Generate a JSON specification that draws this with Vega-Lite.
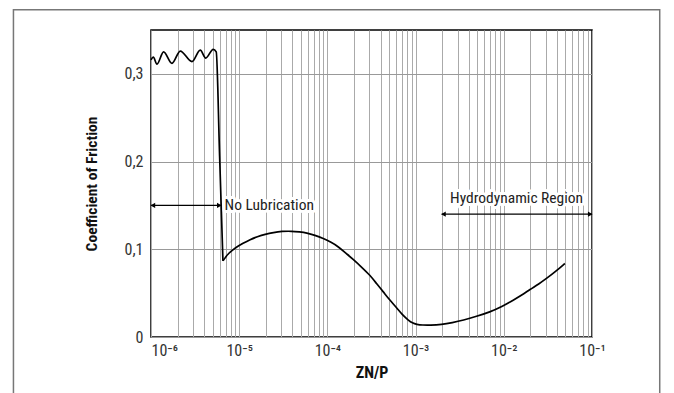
{
  "$schema": "https://vega.github.io/schema/vega-lite/v6.json",
  "width": 441,
  "height": 307,
  "autosize": {"type": "none"},
  "padding": {"left": 151, "top": 30, "right": 82, "bottom": 56},
  "background": "white",
  "config": {
    "view": {"stroke": "black", "strokeWidth": 1.5},
    "font": "Roboto Condensed, DejaVu Sans Condensed, Roboto, sans-serif"
  },
  "datasets": {
    "dry": [
      {"zn_p": 1.0e-6, "mu": 0.316},
      {"zn_p": 1.062e-6, "mu": 0.319},
      {"zn_p": 1.169e-6, "mu": 0.311},
      {"zn_p": 1.389e-6, "mu": 0.325},
      {"zn_p": 1.729e-6, "mu": 0.312},
      {"zn_p": 2.147e-6, "mu": 0.326},
      {"zn_p": 2.913e-6, "mu": 0.314},
      {"zn_p": 3.617e-6, "mu": 0.327},
      {"zn_p": 4.174e-6, "mu": 0.318},
      {"zn_p": 5.077e-6, "mu": 0.328},
      {"zn_p": 5.489e-6, "mu": 0.325},
      {"zn_p": 5.998e-6, "mu": 0.206},
      {"zn_p": 6.54e-6, "mu": 0.0868}
    ],
    "film": [
      {"zn_p": 6.54e-6, "mu": 0.0868},
      {"zn_p": 7.0e-6, "mu": 0.091},
      {"zn_p": 7.56e-6, "mu": 0.0952},
      {"zn_p": 8.4e-6, "mu": 0.0992},
      {"zn_p": 9.42e-6, "mu": 0.1027},
      {"zn_p": 1.1e-5, "mu": 0.1068},
      {"zn_p": 1.332e-5, "mu": 0.1112},
      {"zn_p": 1.6e-5, "mu": 0.1143},
      {"zn_p": 1.97e-5, "mu": 0.1172},
      {"zn_p": 2.45e-5, "mu": 0.1192},
      {"zn_p": 3.045e-5, "mu": 0.1205},
      {"zn_p": 3.95e-5, "mu": 0.1207},
      {"zn_p": 4.8e-5, "mu": 0.1198},
      {"zn_p": 5.84e-5, "mu": 0.1187},
      {"zn_p": 7.2e-5, "mu": 0.116},
      {"zn_p": 9.01e-5, "mu": 0.1123},
      {"zn_p": 1.1e-4, "mu": 0.108},
      {"zn_p": 1.332e-4, "mu": 0.103},
      {"zn_p": 1.6e-4, "mu": 0.096},
      {"zn_p": 1.97e-4, "mu": 0.0884},
      {"zn_p": 2.45e-4, "mu": 0.0795},
      {"zn_p": 3.045e-4, "mu": 0.0704},
      {"zn_p": 3.6e-4, "mu": 0.061},
      {"zn_p": 4.31e-4, "mu": 0.0514},
      {"zn_p": 5.1e-4, "mu": 0.042},
      {"zn_p": 6.11e-4, "mu": 0.0333},
      {"zn_p": 7.1e-4, "mu": 0.025},
      {"zn_p": 8.27e-4, "mu": 0.0192},
      {"zn_p": 9.2e-4, "mu": 0.0158},
      {"zn_p": 1.029e-3, "mu": 0.0143},
      {"zn_p": 1.2e-3, "mu": 0.0136},
      {"zn_p": 1.456e-3, "mu": 0.0135},
      {"zn_p": 1.975e-3, "mu": 0.0142},
      {"zn_p": 2.6e-3, "mu": 0.0163},
      {"zn_p": 3.47e-3, "mu": 0.0191},
      {"zn_p": 4.9e-3, "mu": 0.0235},
      {"zn_p": 6.96e-3, "mu": 0.0285},
      {"zn_p": 9.5e-3, "mu": 0.0345},
      {"zn_p": 1.278e-2, "mu": 0.042},
      {"zn_p": 1.6e-2, "mu": 0.0478},
      {"zn_p": 1.975e-2, "mu": 0.0541},
      {"zn_p": 2.5e-2, "mu": 0.0605},
      {"zn_p": 3.05e-2, "mu": 0.0667},
      {"zn_p": 3.9e-2, "mu": 0.075},
      {"zn_p": 4.92e-2, "mu": 0.0838}
    ],
    "frame": [
      {"left": 2.757e-8, "right": 0.586, "bottom": -0.08, "top": 0.373}
    ],
    "arrows": [
      {"region": "No Lubrication", "from": 1e-6, "to": 6.2e-6, "mu": 0.15},
      {"region": "Hydrodynamic Region", "from": 1.975e-3, "to": 0.1, "mu": 0.14}
    ],
    "heads": [
      {"zn_p": 1.05e-6, "mu": 0.15, "dir": "left"},
      {"zn_p": 5.95e-6, "mu": 0.15, "dir": "right"},
      {"zn_p": 2.07e-3, "mu": 0.14, "dir": "left"},
      {"zn_p": 0.0955, "mu": 0.14, "dir": "right"}
    ],
    "labels": [
      {"text": "No Lubrication", "zn_p": 6.82e-6, "mu": 0.15},
      {"text": "Hydrodynamic Region", "zn_p": 1.396e-2, "mu": 0.158}
    ]
  },
  "layer": [
    {
      "data": {"name": "dry"},
      "mark": {"type": "line", "color": "black", "strokeWidth": 1.7, "interpolate": "monotone"},
      "encoding": {
        "x": {
          "field": "zn_p", "type": "quantitative",
          "scale": {"type": "log", "domain": [1e-6, 0.1], "nice": false},
          "axis": {
            "values": [1e-6, 2e-6, 3e-6, 4e-6, 5e-6, 6e-6, 7e-6, 8e-6, 9e-6,
                       1e-5, 2e-5, 3e-5, 4e-5, 5e-5, 6e-5, 7e-5, 8e-5, 9e-5,
                       1e-4, 2e-4, 3e-4, 4e-4, 5e-4, 6e-4, 7e-4, 8e-4, 9e-4,
                       1e-3, 2e-3, 3e-3, 4e-3, 5e-3, 6e-3, 7e-3, 8e-3, 9e-3,
                       1e-2, 2e-2, 3e-2, 4e-2, 5e-2, 6e-2, 7e-2, 8e-2, 9e-2, 1e-1],
            "labelExpr": "datum.value == 1e-6 ? '10⁻⁶' : datum.value == 1e-5 ? '10⁻⁵' : datum.value == 1e-4 ? '10⁻⁴' : datum.value == 1e-3 ? '10⁻³' : datum.value == 1e-2 ? '10⁻²' : datum.value == 1e-1 ? '10⁻¹' : ''",
            "labelAlign": {"expr": "datum.value == 1e-6 ? 'left' : 'center'"},
            "grid": true, "gridColor": "#aaaaaa", "gridWidth": 1,
            "ticks": false, "domain": false,
            "labelOverlap": false, "labelFlush": false, "labelBound": false,
            "labelFontSize": 16, "labelColor": "#333333", "labelPadding": 5,
            "title": "ZN/P", "titleFontSize": 16, "titleFontWeight": "bold", "titleColor": "#111111", "titlePadding": 6
          }
        },
        "y": {
          "field": "mu", "type": "quantitative",
          "scale": {"domain": [0, 0.35], "nice": false},
          "axis": {
            "values": [0, 0.1, 0.2, 0.3],
            "labelExpr": "datum.value == 0 ? '0' : replace(format(datum.value, '.1f'), '.', ',')",
            "grid": true, "gridColor": "#999999", "gridWidth": 1,
            "ticks": false, "domain": false,
            "labelFontSize": 16, "labelColor": "#333333", "labelPadding": 8,
            "title": "Coefficient of Friction", "titleFontSize": 15.5, "titleFontWeight": "bold", "titleColor": "#111111", "titlePadding": 25
          }
        }
      }
    },
    {
      "data": {"name": "film"},
      "mark": {"type": "line", "color": "black", "strokeWidth": 1.7, "interpolate": "basis"},
      "encoding": {
        "x": {"field": "zn_p", "type": "quantitative"},
        "y": {"field": "mu", "type": "quantitative"}
      }
    },
    {
      "data": {"name": "frame"},
      "mark": {"type": "rect", "fill": null, "fillOpacity": 0, "stroke": "#777777", "strokeWidth": 1.5, "clip": false},
      "encoding": {
        "x": {"field": "left", "type": "quantitative"},
        "x2": {"field": "right"},
        "y": {"field": "bottom", "type": "quantitative"},
        "y2": {"field": "top"}
      }
    },
    {
      "data": {"name": "arrows"},
      "mark": {"type": "rule", "color": "black", "strokeWidth": 1.2},
      "encoding": {
        "x": {"field": "from", "type": "quantitative"},
        "x2": {"field": "to"},
        "y": {"field": "mu", "type": "quantitative"}
      }
    },
    {
      "data": {"name": "heads"},
      "mark": {"type": "point", "filled": true, "color": "black", "size": 28, "opacity": 1},
      "encoding": {
        "x": {"field": "zn_p", "type": "quantitative"},
        "y": {"field": "mu", "type": "quantitative"},
        "shape": {"field": "dir", "type": "nominal", "scale": {"domain": ["left", "right"], "range": ["triangle-left", "triangle-right"]}, "legend": null}
      }
    },
    {
      "data": {"name": "labels"},
      "transform": [{"filter": "datum.text == 'No Lubrication'"}],
      "mark": {"type": "text", "align": "left", "baseline": "middle", "fontSize": 15.5, "color": "#222222", "stroke": "white", "strokeWidth": 6, "strokeJoin": "round"},
      "encoding": {
        "x": {"field": "zn_p", "type": "quantitative"},
        "y": {"field": "mu", "type": "quantitative"},
        "text": {"field": "text"}
      }
    },
    {
      "data": {"name": "labels"},
      "transform": [{"filter": "datum.text == 'No Lubrication'"}],
      "mark": {"type": "text", "align": "left", "baseline": "middle", "fontSize": 15.5, "color": "#222222"},
      "encoding": {
        "x": {"field": "zn_p", "type": "quantitative"},
        "y": {"field": "mu", "type": "quantitative"},
        "text": {"field": "text"}
      }
    },
    {
      "data": {"name": "labels"},
      "transform": [{"filter": "datum.text == 'Hydrodynamic Region'"}],
      "mark": {"type": "text", "align": "center", "baseline": "middle", "fontSize": 15.5, "color": "#222222", "stroke": "white", "strokeWidth": 6, "strokeJoin": "round"},
      "encoding": {
        "x": {"field": "zn_p", "type": "quantitative"},
        "y": {"field": "mu", "type": "quantitative"},
        "text": {"field": "text"}
      }
    },
    {
      "data": {"name": "labels"},
      "transform": [{"filter": "datum.text == 'Hydrodynamic Region'"}],
      "mark": {"type": "text", "align": "center", "baseline": "middle", "fontSize": 15.5, "color": "#222222"},
      "encoding": {
        "x": {"field": "zn_p", "type": "quantitative"},
        "y": {"field": "mu", "type": "quantitative"},
        "text": {"field": "text"}
      }
    }
  ]
}
